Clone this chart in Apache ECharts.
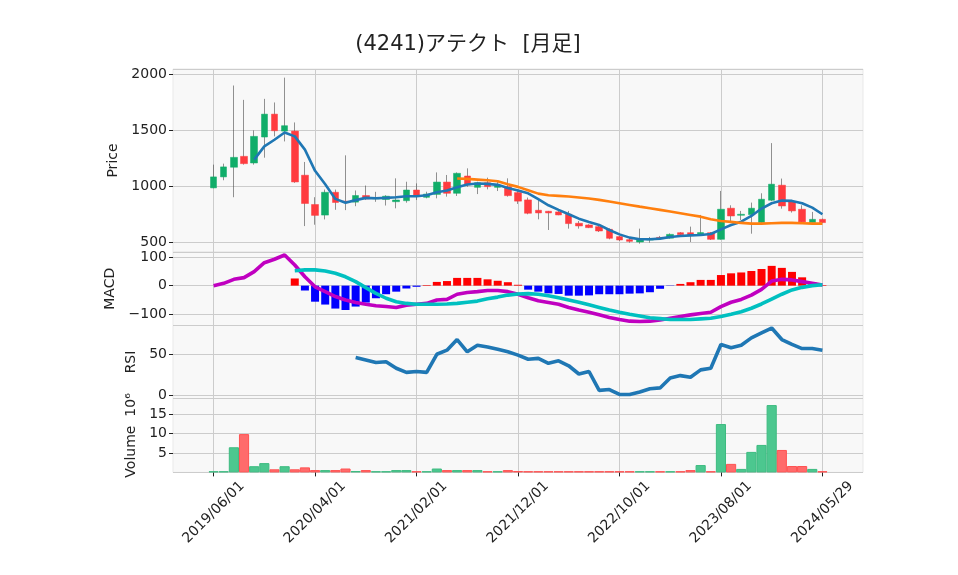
<!DOCTYPE html>
<html><head><meta charset="utf-8">
<script src="https://cdn.jsdelivr.net/npm/echarts@6/dist/echarts.min.js"></script>
<style>html,body{margin:0;padding:0;background:#fff}#c{width:958px;height:575px}</style>
</head><body><div id="c"></div><script>
const titleText = '(4241)アテクト  [月足]';
const dates = ['2019/06/01','2019/07/01','2019/08/01','2019/09/01','2019/10/01','2019/11/01','2019/12/01','2020/01/01','2020/02/01','2020/03/01',
'2020/04/01','2020/05/01','2020/06/01','2020/07/01','2020/08/01','2020/09/01','2020/10/01','2020/11/01','2020/12/01','2021/01/01',
'2021/02/01','2021/03/01','2021/04/01','2021/05/01','2021/06/01','2021/07/01','2021/08/01','2021/09/01','2021/10/01','2021/11/01',
'2021/12/01','2022/01/01','2022/02/01','2022/03/01','2022/04/01','2022/05/01','2022/06/01','2022/07/01','2022/08/01','2022/09/01',
'2022/10/01','2022/11/01','2022/12/01','2023/01/01','2023/02/01','2023/03/01','2023/04/01','2023/05/01','2023/06/01','2023/07/01',
'2023/08/01','2023/09/01','2023/10/01','2023/11/01','2023/12/01','2024/01/01','2024/02/01','2024/03/01','2024/04/01','2024/05/01',
'2024/05/29'];
const tickLabels = ['2019/06/01','2020/04/01','2021/02/01','2021/12/01','2022/10/01','2023/08/01','2024/05/29'];
const openP = [988,1086,1172,1269,1210,1441,1645,1494,1494,1101, 840,746,949,870,861,920,890,885,865,874,
 969,904,930,1040,940,1094,993,1034,993,999, 946,881,789,780,774,753,673,658,643,619,
 554,527,506,524,547,540,589,589,578,589, 530,807,744,750,680,878,1012,863,798,679, 708];
const closeP = [1086,1175,1260,1204,1447,1645,1497,1542,1041,849, 743,949,858,860,920,891,900,914,880,969,
 916,933,1040,940,1118,1014,1034,999,1005,919, 870,762,765,765,747,670,649,634,604,539,
 524,512,530,527,543,574,571,565,590,530, 798,738,753,807,887,1021,827,783,685,708, 679];
const lowP = [985,1056,905,1195,1195,1257,1447,1402,1033,648, 660,707,793,790,825,880,864,831,806,856,
 880,895,895,910,916,998,933,975,960,910, 845,753,708,613,745,625,625,630,595,530,
 515,500,491,500,540,536,565,506,560,524, 527,693,702,580,664,870,803,768,680,679, 675];
const highP = [1195,1204,1900,1772,1500,1781,1749,1970,1571,1219, 905,973,973,1278,965,1009,953,923,1073,1043,
 1028,954,1126,1103,1126,1162,1043,1079,1043,1073, 975,902,893,783,800,783,693,664,664,628,
 560,540,625,551,560,583,594,643,747,595, 961,833,783,857,940,1387,1071,880,833,774, 714];
const ma5 = [null,null,null,null,1240,1358,1417,1482,1447,1329, 1140,1020,890,855,879,899,896,899,905,914,
 914,923,950,965,994,1018,1027,1024,1015,988, 965,940,887,833,792,753,714,685,658,613,
 574,545,530,530,536,551,560,565,568,577, 619,658,687,738,804,851,875,872,851,812, 753];
const ma25 = [null,null,null,null,null,null,null,null,null,null, null,null,null,null,null,null,null,null,null,null,
 null,null,null,null,1071,1068,1062,1056,1047,1020, 997,967,937,923,917,911,902,893,881,866,
 851,836,821,807,792,777,762,747,732,708, 693,685,676,670,670,673,676,676,673,670, 670];
const macd = [0,8,22,28,49,80,92,107,72,31, -4,-21,-38,-50,-59,-65,-70,-73,-76,-68,
 -65,-62,-50,-48,-30,-24,-21,-17,-17,-21, -30,-42,-53,-59,-65,-76,-85,-93,-102,-111,
 -118,-124,-125,-124,-120,-114,-108,-102,-97,-93, -73,-58,-48,-33,-13,16,22,20,14,8, 2];
const signal = [null,null,null,null,null,null,null,null,52,55, 55,51,43,31,14,-7,-27,-44,-56,-62,
 -65,-65,-65,-64,-62,-58,-54,-46,-40,-33, -29,-28,-30,-35,-42,-50,-58,-67,-76,-85,
 -93,-100,-106,-112,-115,-118,-118,-118,-116,-114, -108,-100,-91,-79,-64,-47,-30,-15,-6,0, 3];
const hist = [null,null,null,null,null,null,null,null,25,-17, -56,-66,-80,-85,-73,-59,-44,-30,-21,-10,
 -4,2,13,16,27,27,27,22,17,12, 3,-14,-21,-27,-29,-35,-35,-34,-30,-30,
 -30,-28,-27,-23,-11,-1,6,12,20,20, 37,43,46,51,58,69,62,48,29,12, 2];
const rsi = [null,null,null,null,null,null,null,null,null,null, null,null,null,null,46,43,40,41,33,28,
 29,28,50,55,68,53,61,59,56,53, 49,44,45,39,42,36,26,29,6,7,
 1,1,4,8,9,21,24,22,31,33, 62,58,61,70,76,82,68,62,57,57, 55];
const volume = [0.3,0.3,6.5,9.9,1.6,2.4,0.8,1.6,0.8,1.3, 0.6,0.6,0.6,1.0,0.35,0.6,0.3,0.3,0.6,0.6,
 0.3,0.3,1.0,0.6,0.6,0.6,0.6,0.3,0.3,0.6, 0.35,0.3,0.3,0.3,0.3,0.3,0.3,0.3,0.3,0.3,
 0.3,0.3,0.3,0.3,0.3,0.3,0.3,0.6,1.9,0.3, 12.5,2.2,0.9,5.3,7.1,17.4,5.8,1.65,1.65,0.9, 0.3];

const PAD = 4;
const cats = [];
for (let i = 0; i < PAD; i++) cats.push('padL' + i);
dates.forEach(d => cats.push(d));
for (let i = 0; i < PAD; i++) cats.push('padR' + i);
const tickSet = new Set(tickLabels);
const isTick = (idx) => tickSet.has(cats[idx]);

const UP = '#10ad69', DOWN = '#ff3b3f';
const VUP = '#4cc78f', VDOWN = '#ff6b6b';
const FONT = '"DejaVu Sans", "Noto Sans CJK JP", sans-serif';
const GRID = '#cccccc';

const panels = [
  {top: 69, height: 183, min: 417, max: 2047, split: 3, name: 'Price', gap: 45},
  {top: 252, height: 73.5, min: -139.1, max: 117.4, split: 2, name: 'MACD', gap: 46},
  {top: 325.5, height: 73, min: -3.9, max: 85.1, split: 2, name: 'RSI', gap: 29},
  {top: 398.5, height: 73.9, min: 0, max: 19.1, split: 4, name: 'Volume  10⁶', gap: 33}
];

const grids = panels.map(p => ({left: 173, right: 95, top: p.top, height: p.height, show: true,
  backgroundColor: '#f8f8f8', borderColor: '#e9e9e9', borderWidth: 1}));

const xAxes = panels.map((p, i) => ({
  type: 'category', gridIndex: i, data: cats, boundaryGap: false,
  axisLine: {show: false},
  axisTick: {show: i === 3, interval: isTick, length: 4, lineStyle: {color: '#222'}},
  axisLabel: {show: i === 3, interval: isTick, rotate: 45, fontSize: 14, color: '#222', fontFamily: FONT,
    margin: 40, align: 'center', verticalAlign: 'middle'},
  splitLine: {show: true, interval: isTick, lineStyle: {color: GRID, width: 1}}
}));

const minus = v => (v < 0 ? '\u2212' + Math.abs(v) : String(v));
const yAxes = panels.map((p, i) => ({
  type: 'value', gridIndex: i, min: p.min, max: p.max, splitNumber: p.split,
  name: p.name, nameLocation: 'middle', nameGap: p.gap,
  nameTextStyle: {fontSize: 14, color: '#222', fontFamily: FONT},
  axisLine: {show: false},
  axisTick: {show: true, length: 4, lineStyle: {color: '#222'}},
  axisLabel: {fontSize: 14, color: '#222', fontFamily: FONT, margin: 6, showMinLabel: false, showMaxLabel: false, formatter: minus},
  splitLine: {show: true, lineStyle: {color: GRID, width: 1}}
}));

const ohlc = dates.map((d, i) => [i + PAD, openP[i], closeP[i], lowP[i], highP[i]]);
const bodies = dates.map((d, i) => [i + PAD, openP[i], closeP[i], Math.min(openP[i], closeP[i]), Math.max(openP[i], closeP[i])]);
const pairs = arr => arr.map((v, i) => (v == null ? null : [i + PAD, v])).filter(x => x);

const series = [
  {type: 'candlestick', name: 'wick', xAxisIndex: 0, yAxisIndex: 0, data: ohlc, encode: {x: 0, y: [1, 2, 3, 4]},
   barWidth: 1, silent: true, z: 1,
   itemStyle: {color: '#4a4a4a', color0: '#4a4a4a', borderColor: '#4a4a4a', borderColor0: '#4a4a4a', borderWidth: 0.6}},
  {type: 'candlestick', name: 'body', xAxisIndex: 0, yAxisIndex: 0, data: bodies, encode: {x: 0, y: [1, 2, 3, 4]},
   barWidth: 7, z: 2,
   itemStyle: {color: UP, color0: DOWN, borderColor: UP, borderColor0: DOWN, borderWidth: 0.5}},
  {type: 'line', name: 'MA5', xAxisIndex: 0, yAxisIndex: 0, data: pairs(ma5), showSymbol: false, z: 3,
   lineStyle: {color: '#1f77b4', width: 2.6}},
  {type: 'line', name: 'MA25', xAxisIndex: 0, yAxisIndex: 0, data: pairs(ma25), showSymbol: false, z: 3,
   lineStyle: {color: '#ff7f0e', width: 2.6}},
  {type: 'bar', name: 'hist', xAxisIndex: 1, yAxisIndex: 1, barWidth: 8, z: 2,
   data: hist.map((v, i) => (v == null ? null : {value: [i + PAD, v], itemStyle: {color: v >= 0 ? '#ff0000' : '#0000ff'}})).filter(x => x)},
  {type: 'line', name: 'MACD', xAxisIndex: 1, yAxisIndex: 1, data: pairs(macd), showSymbol: false, z: 3,
   lineStyle: {color: '#c000c0', width: 3.6}},
  {type: 'line', name: 'Signal', xAxisIndex: 1, yAxisIndex: 1, data: pairs(signal), showSymbol: false, z: 4,
   lineStyle: {color: '#00c0c0', width: 3.6}},
  {type: 'line', name: 'RSI', xAxisIndex: 2, yAxisIndex: 2, data: pairs(rsi), showSymbol: false, z: 3,
   lineStyle: {color: '#1f77b4', width: 3.6}},
  {type: 'bar', name: 'Volume', xAxisIndex: 3, yAxisIndex: 3, barCategoryGap: '0%', barWidth: '100%', z: 2,
   data: volume.map((v, i) => {
     const up = closeP[i] >= openP[i];
     return {value: [i + PAD, v], itemStyle: {color: up ? VUP : VDOWN, borderColor: up ? '#3dbb80' : '#ff5252', borderWidth: 1}};
   })}
];

const chart = echarts.init(document.getElementById('c'), null, {renderer: 'canvas'});
chart.setOption({
  animation: false,
  backgroundColor: '#ffffff',
  textStyle: {fontFamily: FONT},
  grid: grids, xAxis: xAxes, yAxis: yAxes, series: series,
  graphic: [{type: 'text', x: 468, y: 45, style: {text: titleText, font: '21px ' + FONT, fill: '#222',
    align: 'center', verticalAlign: 'middle', textAlign: 'center', textVerticalAlign: 'middle'}}]
});
</script></body></html>
